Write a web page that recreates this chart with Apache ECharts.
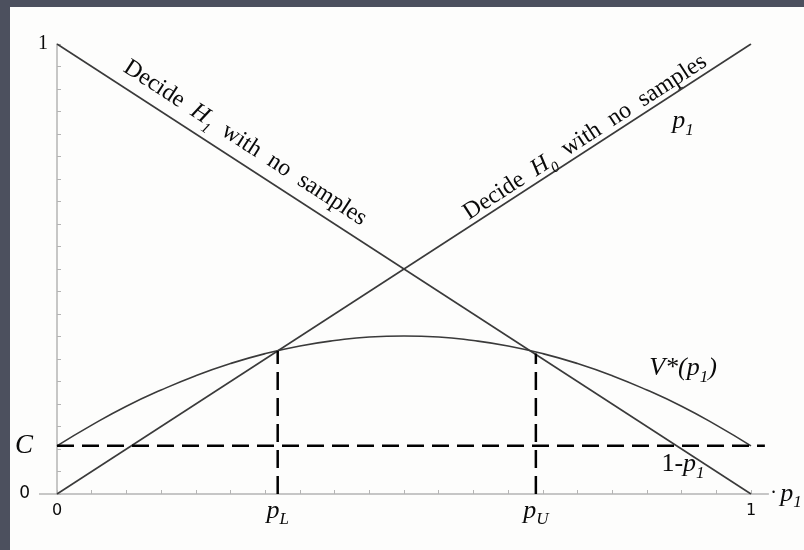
<!DOCTYPE html>
<html>
<head>
<meta charset="utf-8">
<script src="https://cdn.jsdelivr.net/npm/echarts@6/dist/echarts.min.js"></script>
<style>
  html, body { margin: 0; padding: 0; width: 804px; height: 550px; overflow: hidden; background: #4c505e; }
  #panel { position: absolute; left: 10px; top: 7px; right: 0; bottom: 0; background: #fdfdfc; }
  #chart { position: absolute; left: 0; top: 0; width: 804px; height: 550px; }
</style>
</head>
<body>
<div id="panel"></div>
<div id="chart"></div>
<script>
// Tick positions on both axes (prior probability p1 and expected risk)
const pTicks = [0, 0.05, 0.1, 0.15, 0.2, 0.25, 0.3, 0.35, 0.4, 0.45, 0.5,
                0.55, 0.6, 0.65, 0.7, 0.75, 0.8, 0.85, 0.9, 0.95, 1];
const riskTicks = [0, 0.05, 0.1, 0.15, 0.2, 0.25, 0.3, 0.35, 0.4, 0.45, 0.5,
                   0.55, 0.6, 0.65, 0.7, 0.75, 0.8, 0.85, 0.9, 0.95, 1];

// Risk of deciding immediately, without taking any samples
const decideH1Risk = [[0, 1], [1, 0]];   // 1 - p1
const decideH0Risk = [[0, 0], [1, 1]];   // p1

// Optimal expected risk V*(p1) when sampling is allowed
const vStarP = [0, 0.05, 0.1, 0.15, 0.2, 0.25, 0.3, 0.35, 0.4, 0.45, 0.5,
                0.55, 0.6, 0.65, 0.7, 0.75, 0.8, 0.85, 0.9, 0.95, 1];
const vStarValues = [0.107, 0.153, 0.195, 0.231, 0.263, 0.290, 0.312, 0.329, 0.341, 0.349, 0.351,
                     0.349, 0.341, 0.329, 0.312, 0.290, 0.263, 0.231, 0.195, 0.153, 0.107];

// Cost of one sample and the two decision thresholds
const sampleCost = 0.107;
const pL = 0.318, vAtPL = 0.318;
const pU = 0.69, vAtPU = 0.312;

const SERIF = '"Liberation Serif", "Times New Roman", serif';
const SANS = '"DejaVu Sans", sans-serif';
const INK = '#0a0a0a';
const CURVE = '#3a3a3a';
const AXIS = '#b4b4b4';

const richMath = {
  it:  { fontFamily: SERIF, fontStyle: 'italic', fontSize: 26, color: INK, lineHeight: 30, verticalAlign: 'middle' },
  sub: { fontFamily: SERIF, fontStyle: 'italic', fontSize: 17, color: INK, lineHeight: 34, verticalAlign: 'bottom' },
  num: { fontFamily: SANS, fontSize: 16, color: INK, lineHeight: 34 },
  dot: { fontFamily: SERIF, fontSize: 20, color: INK, lineHeight: 30 }
};

const near = (a, b) => Math.abs(a - b) < 1e-6;

const chart = echarts.init(document.getElementById('chart'), null, { renderer: 'canvas' });

const option = {
  animation: false,
  backgroundColor: 'transparent',
  grid: { left: 57, right: 35.65, top: 44, bottom: 56, containLabel: false, outerBoundsMode: 'none' },
  xAxis: {
    type: 'value',
    min: 0,
    max: 1.025,
    axisLine: { onZero: false, lineStyle: { color: AXIS, width: 1.5 } },
    axisTick: { show: true, inside: true, length: 4, customValues: pTicks, lineStyle: { color: AXIS, width: 1 } },
    axisLabel: {
      customValues: [0, pL, pU, 1],
      margin: 0,
      formatter: (v) => {
        if (near(v, 0)) return '{num|0}';
        if (near(v, 1)) return '{num|1}';
        if (near(v, pL)) return '{it|p}{sub|L}';
        if (near(v, pU)) return '{it|p}{sub|U}';
        return '';
      },
      rich: richMath
    },
    splitLine: { show: false },
    name: '{dot|·} {it|p}{sub|1}',
    nameLocation: 'end',
    nameGap: 2,
    nameTextStyle: { rich: richMath, align: 'left', verticalAlign: 'middle' }
  },
  yAxis: {
    type: 'value',
    min: 0,
    max: 1,
    axisLine: { onZero: false, lineStyle: { color: AXIS, width: 1.5 } },
    axisTick: { show: true, inside: true, length: 4, customValues: riskTicks, lineStyle: { color: AXIS, width: 1 } },
    axisLabel: {
      customValues: [0, sampleCost, 1],
      margin: 9,
      formatter: (v) => {
        if (near(v, 0)) return '{zero|0}';
        if (near(v, sampleCost)) return '{c|C}';
        if (near(v, 1)) return '{one|1}';
        return '';
      },
      rich: {
        zero: { fontFamily: SANS, fontSize: 17, color: INK, padding: [0, 18, 0, 0] },
        c:    { fontFamily: SERIF, fontStyle: 'italic', fontSize: 27, color: INK, padding: [0, 15, 0, 0] },
        one:  { fontFamily: SERIF, fontSize: 20, color: INK }
      }
    },
    splitLine: { show: false }
  },
  series: [
    {
      name: 'Decide H1', type: 'line', data: decideH1Risk, symbol: 'none',
      lineStyle: { color: CURVE, width: 1.6 }, z: 3
    },
    {
      name: 'Decide H0', type: 'line', data: decideH0Risk, symbol: 'none',
      lineStyle: { color: CURVE, width: 1.6 }, z: 3
    },
    {
      name: 'V*', type: 'line', smooth: true, symbol: 'none',
      data: vStarP.map((p, i) => [p, vStarValues[i]]),
      lineStyle: { color: CURVE, width: 1.6 }, z: 3
    },
    {
      name: 'C', type: 'line', symbol: 'none',
      data: [[0, sampleCost], [1.02, sampleCost]],
      lineStyle: { color: '#000', width: 2.5, type: [17, 8] }, z: 4
    },
    {
      name: 'pL', type: 'line', symbol: 'none',
      data: [[pL, 0], [pL, vAtPL]],
      lineStyle: { color: '#000', width: 2.5, type: [18, 8] }, z: 4
    },
    {
      name: 'pU', type: 'line', symbol: 'none',
      data: [[pU, 0], [pU, vAtPU]],
      lineStyle: { color: '#000', width: 2.5, type: [18, 8] }, z: 4
    }
  ]
};

chart.setOption(option);

// Annotations placed in data space, rotated along the straight risk lines
const toPx = (x, y) => chart.convertToPixel({ gridIndex: 0 }, [x, y]);
const a0 = toPx(0, 0), a1 = toPx(1, 1);
const slopeAngle = Math.atan2(a0[1] - a1[1], a1[0] - a0[0]);

const wordStyle = {
  w:  { fontFamily: SERIF, fontSize: 24, fill: INK, lineHeight: 28, verticalAlign: 'middle' },
  h:  { fontFamily: SERIF, fontStyle: 'italic', fontSize: 24, fill: INK, lineHeight: 28, verticalAlign: 'middle' },
  s:  { fontFamily: SERIF, fontStyle: 'italic', fontSize: 15, fill: INK, lineHeight: 34, verticalAlign: 'bottom' },
  sp: { fontFamily: SERIF, fontSize: 24, width: 12, lineHeight: 28 }
};
const mathStyle = {
  it:  { fontFamily: SERIF, fontStyle: 'italic', fontSize: 26, fill: INK, lineHeight: 30, verticalAlign: 'middle' },
  rm:  { fontFamily: SERIF, fontSize: 26, fill: INK, lineHeight: 30, verticalAlign: 'middle' },
  sub: { fontFamily: SERIF, fontStyle: 'italic', fontSize: 17, fill: INK, lineHeight: 36, verticalAlign: 'bottom' }
};

function textAt(x, y, text, rich, rotation) {
  const p = toPx(x, y);
  return {
    type: 'text', x: p[0], y: p[1], rotation: rotation || 0, z: 10,
    style: { text, rich, align: 'center', verticalAlign: 'middle' }
  };
}

const origin = toPx(0, 0);

chart.setOption({
  graphic: [
    // horizontal axis continues a little to the left of the origin
    {
      type: 'line', z: 1,
      shape: { x1: origin[0] - 18, y1: origin[1], x2: origin[0], y2: origin[1] },
      style: { stroke: AXIS, lineWidth: 1.5 }
    },
    textAt(0.271, 0.78, '{w|Decide}{sp| }{h|H}{s|1}{sp| }{w|with}{sp| }{w|no}{sp| }{w|samples}', wordStyle, -slopeAngle),
    textAt(0.761, 0.793, '{w|Decide}{sp| }{h|H}{s|0}{sp| }{w|with}{sp| }{w|no}{sp| }{w|samples}', wordStyle, slopeAngle),
    textAt(0.902, 0.829, '{it|p}{sub|1}', mathStyle),
    textAt(0.902, 0.28, '{it|V*(p}{sub|1}{it|)}', mathStyle),
    textAt(0.902, 0.067, '{rm|1}{it|-p}{sub|1}', mathStyle)
  ]
});
</script>
</body>
</html>
